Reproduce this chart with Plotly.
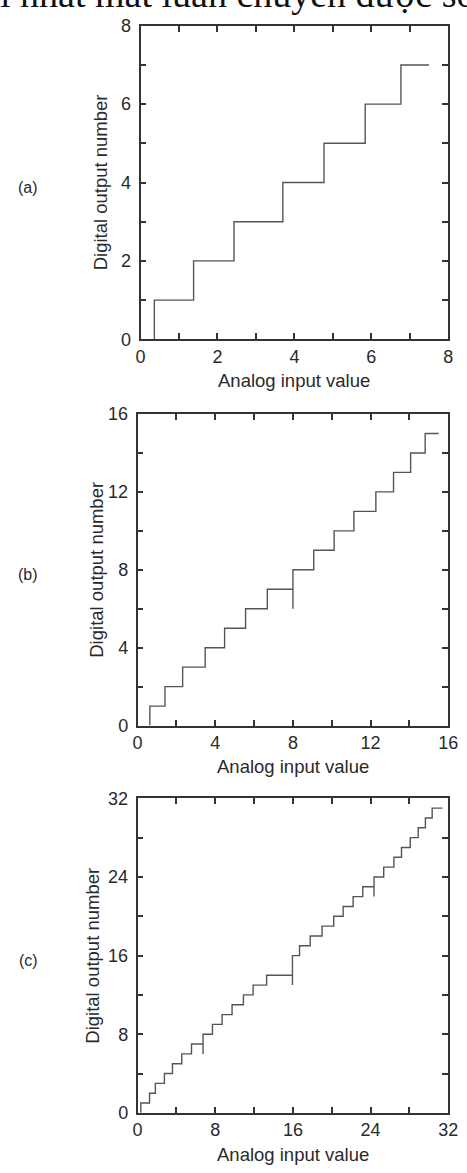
import plotly.graph_objects as go

W, H = 467, 1173

# ---------------- data ----------------
# Panel (a): 3-bit converter
edges_a = [0.36, 1.38, 2.43, 3.70, 4.77, 5.84, 6.77]
levels_a = [1, 2, 3, 4, 5, 6, 7]
lows_a = [0, 1, 2, 3, 4, 5, 6]          # lowest point of each vertical riser
end_a = 7.5

# Panel (b): 4-bit converter
edges_b = [0.63, 1.41, 2.32, 3.48, 4.48, 5.56, 6.68, 8.0, 9.07, 10.12,
           11.14, 12.27, 13.18, 14.06, 14.81]
levels_b = [1, 2, 3, 4, 5, 6, 7, 8, 9, 10, 11, 12, 13, 14, 15]
lows_b = [0, 1, 2, 3, 4, 5, 6, 6, 8, 9, 10, 11, 12, 13, 14]
end_b = 15.5

# Panel (c): 5-bit converter
edges_c = [0.33, 1.23, 1.83, 2.76, 3.59, 4.55, 5.55, 6.74, 7.71, 8.70,
           9.73, 10.90, 11.90, 13.29, 15.95, 16.68, 17.78, 19.00, 20.20,
           21.17, 22.20, 23.19, 24.35, 25.35, 26.40, 27.18, 28.08, 28.90,
           29.64, 30.34]
levels_c = [1, 2, 3, 4, 5, 6, 7, 8, 9, 10, 11, 12, 13, 14, 16, 17, 18, 19,
            20, 21, 22, 23, 24, 25, 26, 27, 28, 29, 30, 31]
lows_c = [0, 1, 2, 3, 4, 5, 6, 6, 8, 9, 10, 11, 12, 13, 13, 16, 17, 18,
          19, 20, 21, 22, 22, 24, 25, 26, 27, 28, 29, 30]
end_c = 31.4

panel_labels = ["(a)", "(b)", "(c)"]
axis_max = [8, 16, 32]
tick_major = [[0, 2, 4, 6, 8], [0, 4, 8, 12, 16], [0, 8, 16, 24, 32]]
tick_minor = [1, 2, 4]
x_title = "Analog input value"
y_title = "Digital output number"
top_text = "i nhất mất luân chuyển được số"

# ---------------- layout geometry (pixels) ----------------
boxes = [  # left, right, top, bottom
    (140, 458, 16, 335),
    (137, 458, 411, 728),
    (137, 458, 802, 1122),
]
ytitle_x = [99, 95, 90]


def build_path(edges, levels, lows, end):
    xs, ys = [], []
    prev = 0
    for e, lv, lo in zip(edges, levels, lows):
        if xs:
            xs.append(e); ys.append(prev)
        xs.append(e); ys.append(lo)
        xs.append(e); ys.append(lv)
        prev = lv
    xs.append(end); ys.append(prev)
    return xs, ys


data = [(edges_a, levels_a, lows_a, end_a),
        (edges_b, levels_b, lows_b, end_b),
        (edges_c, levels_c, lows_c, end_c)]

fig = go.Figure()
font_main = dict(family="Liberation Sans, Arial, sans-serif", size=18.5, color="#2a2a2a")
font_tick = dict(font_main, size=18)
annotations = []
layout_axes = {}

for i, ((edges, levels, lows, end), (l, r, t, b)) in enumerate(zip(data, boxes)):
    n = "" if i == 0 else str(i + 1)
    xs, ys = build_path(edges, levels, lows, end)
    fig.add_trace(go.Scatter(
        x=xs, y=ys, mode="lines", xaxis="x" + n, yaxis="y" + n,
        line=dict(color="#555555", width=1.4), showlegend=False,
        hoverinfo="skip"))
    common = dict(
        range=[0, axis_max[i]], tickvals=tick_major[i],
        ticks="inside", ticklen=6, tickwidth=1.6, tickcolor="#333333",
        showline=True, linewidth=1.7, linecolor="#333333", mirror="allticks",
        showgrid=False, zeroline=False, tickfont=font_tick,
        minor=dict(dtick=tick_minor[i], tick0=0, ticks="inside", ticklen=6,
                   tickwidth=1.6, tickcolor="#333333", showgrid=False),
        fixedrange=True,
    )
    layout_axes["xaxis" + n] = dict(common, domain=[l / W, r / W],
                                    anchor="y" + n)
    layout_axes["yaxis" + n] = dict(common, domain=[1 - b / H, 1 - t / H],
                                    anchor="x" + n, ticklabelstandoff=4)
    cy = (t + b) / 2
    annotations.append(dict(text=panel_labels[i], x=24 / W, y=1 - (cy + 5) / H,
                            xref="paper", yref="paper", showarrow=False,
                            xanchor="center", yanchor="middle",
                            font=dict(font_main, size=16)))
    annotations.append(dict(text=y_title, x=ytitle_x[i] / W, y=1 - cy / H,
                            xref="paper", yref="paper", showarrow=False,
                            textangle=-90, xanchor="center", yanchor="middle",
                            font=font_main))
    annotations.append(dict(text=x_title, x=(l + r) / 2 / W, y=1 - (b + 42) / H,
                            xref="paper", yref="paper", showarrow=False,
                            xanchor="center", yanchor="middle",
                            font=font_main))

annotations.append(dict(text=top_text, x=-7 / W, y=1, xref="paper", yref="paper",
                        showarrow=False, xanchor="left", yanchor="middle",
                        yshift=16,
                        font=dict(family="Liberation Serif, Times New Roman, serif",
                                  size=38, color="#111111")))

fig.update_layout(
    width=W, height=H, margin=dict(l=0, r=0, t=0, b=0),
    paper_bgcolor="white", plot_bgcolor="white",
    annotations=annotations, **layout_axes)

fig.write_html("out.html")
